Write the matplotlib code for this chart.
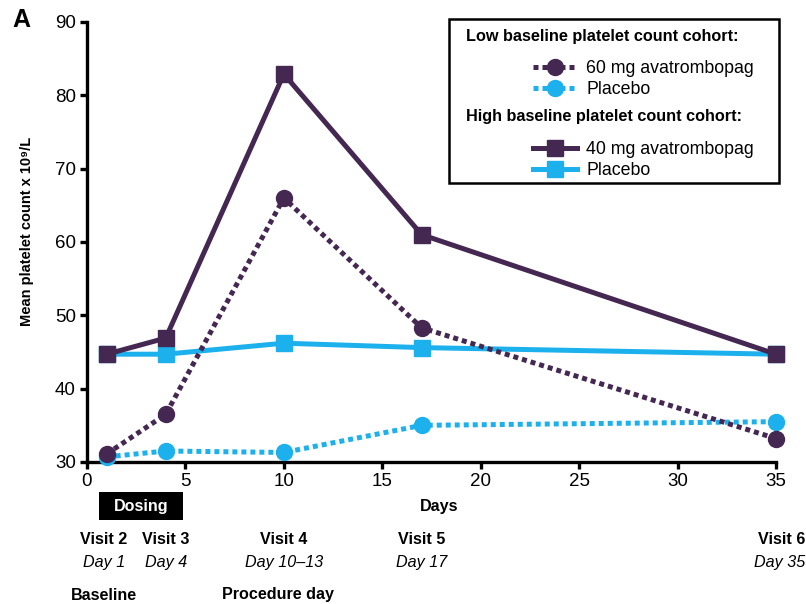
import matplotlib
matplotlib.use("Agg")
import matplotlib.pyplot as plt
import matplotlib.transforms as mtransforms
from matplotlib.patches import Rectangle

plt.rcParams['font.family'] = ['Liberation Sans', 'DejaVu Sans']

# data
days = [1, 4, 10, 17, 35]
low_60mg = [31.1, 36.5, 66.0, 48.3, 33.2]
low_placebo = [30.7, 31.5, 31.3, 35.0, 35.5]
high_40mg = [44.7, 46.9, 82.9, 61.0, 44.7]
high_placebo = [44.7, 44.7, 46.2, 45.6, 44.7]

visit_names = ['Visit 2', 'Visit 3', 'Visit 4', 'Visit 5', 'Visit 6']
visit_days = ['Day 1', 'Day 4', 'Day 10\u201313', 'Day 17', 'Day 35']
visit_x = [0.85, 4.0, 10.0, 17.0, 36.5]
visit_ha = ['center', 'center', 'center', 'center', 'right']

purple = '#452852'
blue = '#1cb1ec'

fig = plt.figure(figsize=(8.06, 6.04), dpi=100)
W, H = 806, 604
ax = fig.add_axes([87 / W, 1 - 462 / H, 689 / W, 440 / H])

dot = (0, (1.0, 0.8))
ax.plot(days, high_placebo, color=blue, lw=3.6, marker='s', ms=12,
        clip_on=False, zorder=3, label='Placebo')
ax.plot(days, low_placebo, color=blue, lw=3.6, ls=dot, dash_capstyle='butt',
        marker='o', ms=11.5, clip_on=False, zorder=4, label='Placebo')
ax.plot(days, low_60mg, color=purple, lw=3.6, ls=dot, dash_capstyle='butt',
        marker='o', ms=11.5, clip_on=False, zorder=5, label='60 mg avatrombopag')
ax.plot(days, high_40mg, color=purple, lw=3.6, marker='s', ms=12,
        clip_on=False, zorder=6, label='40 mg avatrombopag')

ax.set_xlim(0, 35)
ax.set_ylim(30, 90)
ax.set_xticks(range(0, 36, 5))
ax.set_yticks(range(30, 91, 10))
for s in ['top', 'right']:
    ax.spines[s].set_visible(False)
for s in ['left', 'bottom']:
    ax.spines[s].set_linewidth(2.4)
ax.tick_params(width=2.4, length=5, labelsize=13.5, pad=3)
ax.set_ylabel('Mean platelet count x 10\u2079/L', fontsize=10.5, fontweight='bold')
ax.yaxis.set_label_coords(-0.077, 0.525)

# legend box
fig.add_artist(Rectangle((449 / W, 1 - 183 / H), 330 / W, 164 / H,
                         transform=fig.transFigure, fill=False,
                         edgecolor='black', lw=1.8))
fig.text(466 / W, 1 - 37 / H, 'Low baseline platelet count cohort:',
         fontsize=11.7, fontweight='bold', va='center')
fig.text(466 / W, 1 - 116 / H, 'High baseline platelet count cohort:',
         fontsize=11.7, fontweight='bold', va='center')
lines = ax.get_lines()
leg_kw = dict(loc='upper left', frameon=False, fontsize=12.8, handlelength=2.45,
              handletextpad=0.55, labelspacing=0.22, borderpad=0,
              borderaxespad=0)
leg1 = fig.legend([lines[2], lines[1]], ['60 mg avatrombopag', 'Placebo'],
                  bbox_to_anchor=(533 / W, 1 - 60 / H), **leg_kw)
leg2 = fig.legend([lines[3], lines[0]], ['40 mg avatrombopag', 'Placebo'],
                  bbox_to_anchor=(533 / W, 1 - 141 / H), **leg_kw)

# annotations below the axis
blend = mtransforms.blended_transform_factory(ax.transData, fig.transFigure)
ax.add_patch(Rectangle((0.6, 1 - 520 / H), 4.3, 28 / H, transform=blend,
                       facecolor='black', clip_on=False))
ax.text(2.75, 1 - 506 / H, 'Dosing', transform=blend, color='white',
        fontsize=11.6, fontweight='bold', ha='center', va='center')
ax.text(17.9, 1 - 507 / H, 'Days', transform=blend, fontsize=11.6,
        fontweight='bold', ha='center', va='center')
for name, d, x, ha in zip(visit_names, visit_days, visit_x, visit_ha):
    ax.text(x, 1 - 539 / H, name, transform=blend, fontsize=11.6,
            fontweight='bold', ha=ha, va='center')
    ax.text(x, 1 - 562 / H, d, transform=blend, fontsize=11.6,
            style='italic', ha=ha, va='center')
ax.text(0.85, 1 - 595 / H, 'Baseline', transform=blend, fontsize=11.6,
        fontweight='bold', ha='center', va='center')
ax.text(9.7, 1 - 595 / H, 'Procedure day', transform=blend, fontsize=11.6,
        fontweight='bold', ha='center', va='center')

fig.text(12 / W, 1 - 20 / H, 'A', fontsize=18, fontweight='bold', va='center')

fig.savefig('out.png', dpi=100)
